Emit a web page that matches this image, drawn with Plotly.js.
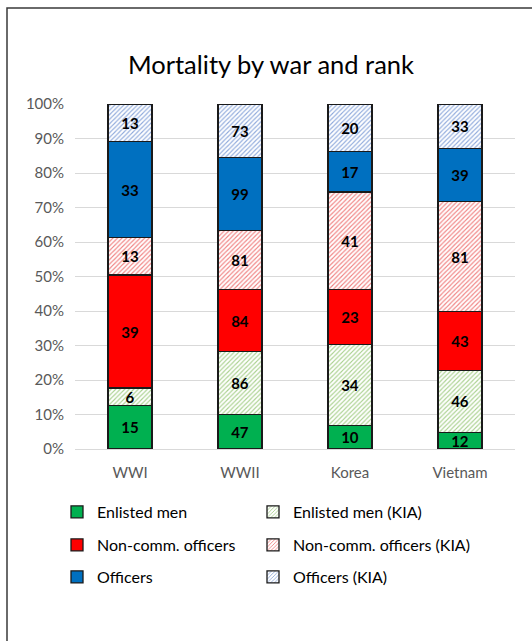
<!DOCTYPE html>
<html>
<head>
<meta charset="utf-8">
<script src="https://cdn.plot.ly/plotly-3.0.1.min.js"></script>
<style>
  html, body { margin: 0; padding: 0; background: #fff; }
  #chart { width: 532px; height: 641px; }
</style>
</head>
<body>
<div id="chart"></div>
<script>
const wars = ["WWI", "WWII", "Korea", "Vietnam"];
const enlisted = [15, 47, 10, 12];
const enlistedKIA = [6, 86, 34, 46];
const nco = [39, 84, 23, 43];
const ncoKIA = [13, 81, 41, 81];
const officers = [33, 99, 17, 39];
const officersKIA = [13, 73, 20, 33];

const FONT = "Lato, 'Open Sans', sans-serif";
const edge = { color: "#1a1a1a", width: 1.3 };

function solid(name, vals, color, leg) {
  return {
    type: "bar", name: name, x: wars, y: vals, legend: leg,
    text: vals.map(String), textposition: "inside", insidetextanchor: "middle",
    textangle: 0, constraintext: "none",
    textfont: { family: FONT, size: 15, color: "#000", weight: "bold" },
    marker: { color: color, line: edge },
    hoverinfo: "name+y"
  };
}
function hatched(name, vals, fg, leg) {
  return {
    type: "bar", name: name, x: wars, y: vals, legend: leg,
    text: vals.map(String), textposition: "inside", insidetextanchor: "middle",
    textangle: 0, constraintext: "none",
    textfont: { family: FONT, size: 15, color: "#000", weight: "bold" },
    marker: { color: "#ffffff", line: edge,
      pattern: { shape: "/", fgcolor: fg, bgcolor: "#ffffff", size: 3.2, solidity: 0.35, fillmode: "replace" } },
    hoverinfo: "name+y"
  };
}

const data = [
  solid("Enlisted men", enlisted, "#00B050", "legend"),
  hatched("Enlisted men (KIA)", enlistedKIA, "#A9D18E", "legend2"),
  solid("Non-comm. officers", nco, "#FF0000", "legend3"),
  hatched("Non-comm. officers (KIA)", ncoKIA, "#F08080", "legend4"),
  solid("Officers", officers, "#0070C0", "legend5"),
  hatched("Officers (KIA)", officersKIA, "#8FAADC", "legend6")
];

const L = 75, R = 17, T = 104, B = 192;
const W = 532, H = 641;
const pw = W - L - R, ph = H - T - B;
function px2x(p) { return (p - L) / pw; }
function py2y(p) { return (H - B - p) / ph; }

function legendAt(left, top) {
  return { orientation: "h", traceorder: "normal", x: px2x(left), xanchor: "left", y: py2y(top), yanchor: "top",
    itemwidth: 30,
    font: { family: FONT, size: 16, color: "#000" }, bgcolor: "rgba(0,0,0,0)" };
}

const layout = {
  width: W, height: H,
  margin: { l: L, r: R, t: T, b: B, pad: 0 },
  paper_bgcolor: "#ffffff", plot_bgcolor: "#ffffff",
  font: { family: FONT, size: 15, color: "#595959" },
  title: { text: "Mortality by war and rank", font: { family: FONT, size: 25.5, color: "#000" },
    xref: "container", x: 271 / W, xanchor: "center", yref: "container", y: 1 - 65 / H, yanchor: "middle" },
  barmode: "stack", barnorm: "percent", bargap: 0.6,
  uniformtext: { mode: "show", minsize: 15 },
  xaxis: { showgrid: false, showline: false, zeroline: false, ticks: "",
    tickfont: { family: FONT, size: 15, color: "#595959" }, ticklabelstandoff: 13 },
  yaxis: { range: [0, 100], dtick: 10, ticksuffix: "%", showgrid: true, gridcolor: "#D9D9D9", gridwidth: 1,
    zeroline: true, zerolinecolor: "#D9D9D9", zerolinewidth: 1, showline: false, ticks: "",
    tickfont: { family: FONT, size: 15, color: "#595959" }, ticklabelstandoff: 10, fixedrange: true },
  showlegend: true,
  legend: legendAt(57, 495),
  legend2: legendAt(253, 495),
  legend3: legendAt(57, 528),
  legend4: legendAt(253, 528),
  legend5: legendAt(57, 560),
  legend6: legendAt(253, 560),
  shapes: [{
    type: "rect", xref: "paper", yref: "paper", layer: "above",
    x0: px2x(7), x1: px2x(W + 20), y0: py2y(H + 20), y1: py2y(8),
    line: { color: "#3a3a3a", width: 1.5 }, fillcolor: "rgba(0,0,0,0)"
  }]
};

Plotly.newPlot("chart", data, layout, { displayModeBar: false, staticPlot: true });
</script>
</body>
</html>
